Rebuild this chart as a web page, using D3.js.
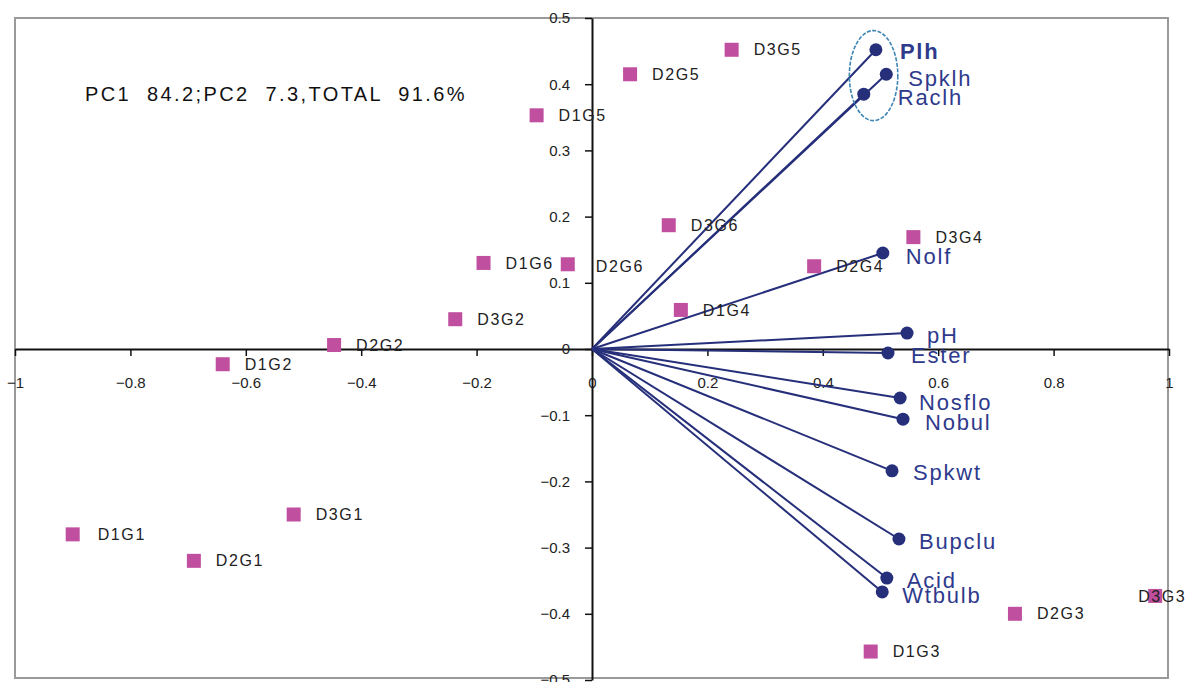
<!DOCTYPE html>
<html><head><meta charset="utf-8">
<script src="https://cdn.jsdelivr.net/npm/d3@7"></script>
<style>
body{margin:0;background:#fff;}
svg{display:block;}
</style></head>
<body><svg id="c" width="1188" height="682"></svg>
<script>
// ---- data ----
const xTicks = [-1,-0.8,-0.6,-0.4,-0.2,0,0.2,0.4,0.6,0.8,1];
const yTicks = [0.5,0.4,0.3,0.2,0.1,0,-0.1,-0.2,-0.3,-0.4,-0.5];
const scoreNames = ["D3G5","D2G5","D1G5","D3G6","D3G4","D1G6","D2G6","D2G4","D3G2","D1G4","D2G2","D1G2","D3G1","D1G1","D2G1","D1G3","D2G3","D3G3"];
const scoreX = [0.242,0.066,-0.096,0.133,0.557,-0.188,-0.042,0.385,-0.237,0.154,-0.447,-0.640,-0.517,-0.900,-0.690,0.483,0.733,0.976];
const scoreY = [0.452,0.415,0.353,0.187,0.169,0.130,0.128,0.125,0.045,0.059,0.006,-0.023,-0.250,-0.280,-0.320,-0.457,-0.400,-0.373];
const varNames = ["Plh","Spklh","Raclh","Nolf","pH","Ester","Nosflo","Nobul","Spkwt","Bupclu","Acid","Wtbulb"];
const varX = [0.492,0.510,0.471,0.504,0.546,0.513,0.534,0.539,0.520,0.532,0.511,0.503];
const varY = [0.452,0.415,0.385,0.145,0.024,-0.006,-0.074,-0.106,-0.184,-0.287,-0.346,-0.367];
const annotation = "PC1  84.2;PC2  7.3,TOTAL  91.6%";
const groupEllipse = {cx:0.488, cy:0.413, rx:0.042, ry:0.068};

// ---- layout (label nudges in px) ----
const scoreLabelNudge = {"D3G3":[-39,0],"D2G6":[6,2],"D1G1":[3,0]};
const varLabelNudge = {"Plh":[24,2],"Spklh":[22,4],"Raclh":[34,3],"Nolf":[23,3],"pH":[20,2],"Ester":[23,2],"Nosflo":[19,4],"Nobul":[22,3],"Spkwt":[21,1],"Bupclu":[20,2],"Acid":[20,2],"Wtbulb":[20,3]};

const svg = d3.select("#c");
const x = d3.scaleLinear().domain([-1,1]).range([15,1169]);
const y = d3.scaleLinear().domain([-0.5,0.5]).range([680,18]);
const font = "Liberation Sans, Arial, sans-serif";

// frame
svg.append("rect").attr("x",15).attr("y",18).attr("width",1153).attr("height",660)
  .attr("fill","none").attr("stroke","#9a9a9a").attr("stroke-width",2);

// axes
const gx = svg.append("g").attr("transform",`translate(0,${y(0)})`)
  .call(d3.axisBottom(x).tickValues(xTicks).tickSize(7).tickSizeOuter(0).tickFormat(d=>d===0?"0":d3.format("")(d)));
gx.select(".domain").attr("stroke","#111").attr("stroke-width",2);
gx.selectAll(".tick line").attr("stroke","#111").attr("stroke-width",1.5);
gx.selectAll(".tick text").attr("font-family",font).attr("font-size",15).attr("fill","#222").attr("y",28);

const gy = svg.append("g").attr("transform",`translate(${x(0)},0)`)
  .call(d3.axisLeft(y).tickValues(yTicks).tickSize(7).tickSizeOuter(0).tickFormat(d=>d===0?"0":d3.format("")(d)));
gy.select(".domain").attr("stroke","#111").attr("stroke-width",2);
gy.selectAll(".tick line").attr("stroke","#111").attr("stroke-width",1.5);
gy.selectAll(".tick text").attr("font-family",font).attr("font-size",15).attr("fill","#222").attr("x",-22);

// annotation
svg.append("text").attr("x",85).attr("y",101).text(annotation)
  .attr("font-family",font).attr("font-size",20)
  .attr("letter-spacing","2.4px").attr("fill","#111").style("white-space","pre");

// loading vectors
const vars = varNames.map((n,i)=>({name:n,x:varX[i],y:varY[i]}));
const navy = "#262F7A";
svg.append("g").selectAll("line").data(vars).join("line")
  .attr("x1",x(0)).attr("y1",y(0)).attr("x2",d=>x(d.x)).attr("y2",d=>y(d.y))
  .attr("stroke",navy).attr("stroke-width",2);
svg.append("g").selectAll("circle").data(vars).join("circle")
  .attr("cx",d=>x(d.x)).attr("cy",d=>y(d.y)).attr("r",6.5).attr("fill",navy);
svg.append("g").selectAll("text").data(vars).join("text")
  .attr("x",d=>x(d.x)+(varLabelNudge[d.name]||[16,0])[0])
  .attr("y",d=>y(d.y)+(varLabelNudge[d.name]||[0,0])[1])
  .attr("dy","0.35em")
  .attr("font-family",font).attr("font-size",22).attr("letter-spacing","1.8px")
  .attr("font-weight",d=>d.name==="Plh"?"bold":"normal")
  .attr("fill","#2E3A8C").text(d=>d.name);

// ellipse around group
svg.append("ellipse").attr("cx",x(groupEllipse.cx)).attr("cy",y(groupEllipse.cy))
  .attr("rx",x(groupEllipse.rx)-x(0)).attr("ry",y(0)-y(groupEllipse.ry))
  .attr("fill","none").attr("stroke","#3F86B5").attr("stroke-width",1.6).attr("stroke-dasharray","4,1.5");

// scores
const scores = scoreNames.map((n,i)=>({name:n,x:scoreX[i],y:scoreY[i]}));
const s = 14;
svg.append("g").selectAll("rect").data(scores).join("rect")
  .attr("x",d=>x(d.x)-s/2).attr("y",d=>y(d.y)-s/2).attr("width",s).attr("height",s)
  .attr("fill","#C04FA0");
svg.append("g").selectAll("text").data(scores).join("text")
  .attr("x",d=>x(d.x)+22+(scoreLabelNudge[d.name]||[0,0])[0])
  .attr("y",d=>y(d.y)+(scoreLabelNudge[d.name]||[0,0])[1])
  .attr("dy","0.35em")
  .attr("font-family",font).attr("font-size",16)
  .attr("letter-spacing","1.6px")
  .attr("fill","#222").text(d=>d.name);
</script></body></html>
